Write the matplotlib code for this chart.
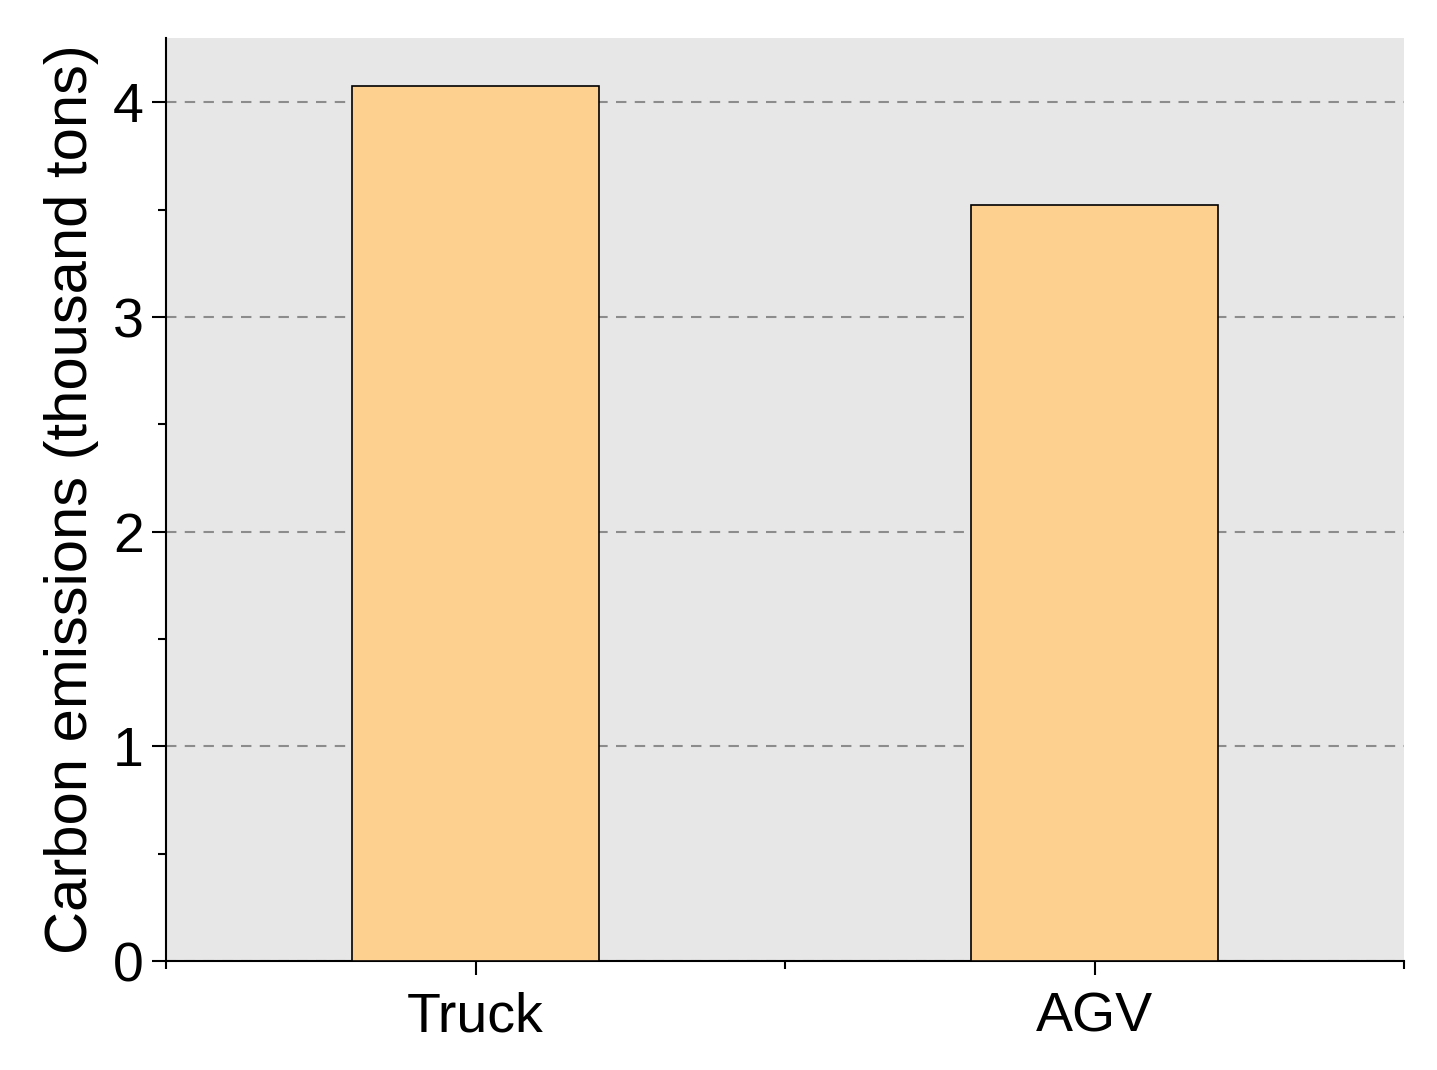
import matplotlib.pyplot as plt
from matplotlib.ticker import MultipleLocator, FixedLocator

plt.rcParams['font.family'] = ['Liberation Sans', 'DejaVu Sans']

categories = ['Truck', 'AGV']
emissions = [4.075, 3.52]

fig = plt.figure(figsize=(14.37, 10.7), dpi=100)
ax = fig.add_axes([166 / 1437, 1 - 961 / 1070, 1238 / 1437, 923 / 1070])
ax.set_facecolor('#e7e7e7')
ax.bar(range(len(categories)), emissions, width=0.4, color='#fed090',
       edgecolor='black', linewidth=1.2, zorder=3)
ax.set_xlim(-0.5, 1.5)
ax.set_ylim(0, 4.3)
ax.set_xticks(range(len(categories)))
ax.set_xticklabels(categories)
ax.xaxis.set_minor_locator(FixedLocator([-0.5, 0.5, 1.5]))
ax.yaxis.set_major_locator(MultipleLocator(1))
ax.yaxis.set_minor_locator(MultipleLocator(0.5))
ax.grid(axis='y', which='major', linestyle='--', color='#8c8c8c', linewidth=1.5, dashes=(5, 4), zorder=1)
for s in ['top', 'right']:
    ax.spines[s].set_visible(False)
for s in ['left', 'bottom']:
    ax.spines[s].set_linewidth(1.5)
ax.tick_params(which='major', length=10, width=1.5, labelsize=40, direction='out')
ax.tick_params(which='minor', length=6, width=1.5, direction='out')
ax.tick_params(axis='x', pad=12)
ax.tick_params(axis='y', pad=6)
ax.set_ylabel('Carbon emissions (thousand tons)', fontsize=43, labelpad=10)
fig.savefig('out.png', dpi=100)
